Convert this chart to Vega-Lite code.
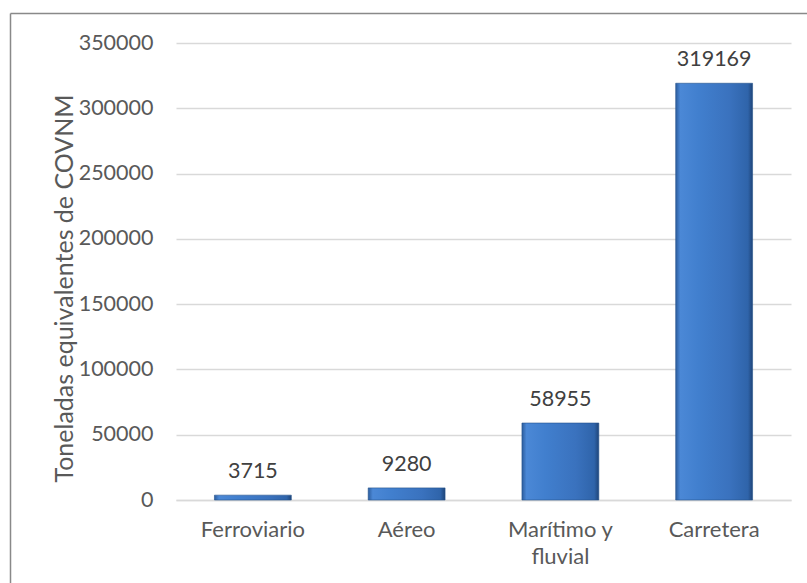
{
  "$schema": "https://vega.github.io/schema/vega-lite/v6.json",
  "autosize": {"type": "none"},
  "padding": {"left": 176, "top": 43, "right": 16, "bottom": 83},
  "width": 615,
  "height": 457,
  "background": "white",
  "config": {
    "view": {"stroke": null},
    "font": "Lato",
    "axis": {"labelFont": "Lato", "titleFont": "Lato"}
  },
  "data": {
    "values": [
      {"modo": "Ferroviario", "valor": 3715},
      {"modo": "Aéreo", "valor": 9280},
      {"modo": "Marítimo y fluvial", "valor": 58955},
      {"modo": "Carretera", "valor": 319169}
    ]
  },
  "layer": [
    {
      "encoding": {
        "x": {
          "field": "modo",
          "type": "nominal",
          "sort": null,
          "scale": {"paddingInner": 0.5, "paddingOuter": 0.25},
          "axis": {
            "title": null,
            "labelAngle": 0,
            "labelFontSize": 22,
            "labelColor": "#595959",
            "labelPadding": 19,
            "labelLineHeight": 27,
            "labelExpr": "datum.value == 'Marítimo y fluvial' ? ['Marítimo y', 'fluvial'] : datum.value",
            "ticks": false,
            "domain": true,
            "domainColor": "#d9d9d9",
            "domainWidth": 1.5
          }
        },
        "y": {
          "field": "valor",
          "type": "quantitative",
          "scale": {"domain": [0, 350000], "nice": false},
          "axis": {
            "title": "Toneladas equivalentes de COVNM",
            "titleFontSize": 25,
            "titleFontWeight": "normal",
            "titleColor": "#595959",
            "titlePadding": 1,
            "titleY": 245,
            "values": [0, 50000, 100000, 150000, 200000, 250000, 300000, 350000],
            "format": "d",
            "labelFontSize": 21.5,
            "labelColor": "#595959",
            "labelPadding": 23,
            "ticks": false,
            "domain": false,
            "grid": true,
            "gridColor": "#d9d9d9",
            "gridWidth": 1.5
          }
        }
      },
      "layer": [
        {
          "mark": {
            "type": "bar",
            "stroke": "#24508c",
            "strokeWidth": 0.6,
            "color": {
              "gradient": "linear",
              "x1": 0, "y1": 0, "x2": 1, "y2": 0,
              "stops": [
                {"offset": 0, "color": "#2C5D9E"},
                {"offset": 0.06, "color": "#4B88D6"},
                {"offset": 0.3, "color": "#417FCE"},
                {"offset": 0.7, "color": "#3A72BE"},
                {"offset": 0.94, "color": "#2F64AA"},
                {"offset": 1, "color": "#1F4579"}
              ]
            }
          }
        },
        {
          "mark": {
            "type": "text",
            "baseline": "alphabetic",
            "dy": -17,
            "fontSize": 21.5,
            "color": "#404040"
          },
          "encoding": {"text": {"field": "valor", "type": "quantitative", "format": "d"}}
        }
      ]
    },
    {
      "mark": {"type": "point", "opacity": 0},
      "encoding": {
        "x": {
          "field": "valor",
          "type": "quantitative",
          "scale": {"range": [-166, 631]},
          "axis": {
            "orient": "top",
            "offset": 30,
            "title": null,
            "labels": false,
            "ticks": false,
            "grid": false,
            "domain": true,
            "domainColor": "#898989",
            "domainWidth": 1.5
          }
        },
        "y": {
          "field": "valor",
          "type": "quantitative",
          "scale": {"range": [540, -30]},
          "axis": {
            "orient": "right",
            "offset": -781,
            "title": null,
            "labels": false,
            "ticks": false,
            "grid": false,
            "domain": true,
            "domainColor": "#898989",
            "domainWidth": 1.5
          }
        }
      }
    }
  ],
  "resolve": {
    "scale": {"x": "independent", "y": "independent"},
    "axis": {"x": "independent", "y": "independent"}
  }
}
